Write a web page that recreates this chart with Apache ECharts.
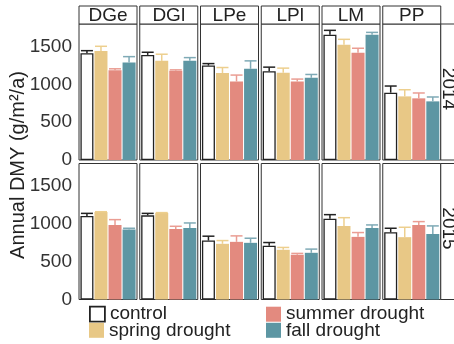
<!DOCTYPE html>
<html>
<head>
<meta charset="utf-8">
<script src="https://cdn.jsdelivr.net/npm/echarts@6/dist/echarts.min.js"></script>
<style>html,body{margin:0;padding:0;background:#fff;}#c{width:454px;height:344px;}</style>
</head>
<body>
<div id="c"></div>
<script>
const panels = ['DGe', 'DGl', 'LPe', 'LPl', 'LM', 'PP'];
const years = ['2014', '2015'];
const treatments = ['control', 'spring drought', 'summer drought', 'fall drought'];
const yTicks = [0, 500, 1000, 1500];

// 2014 means and standard errors
const control2014 = [1413, 1391, 1250, 1176, 1658, 891];
const control2014Se = [34, 35, 26, 53, 58, 88];
const spring2014 = [1443, 1312, 1152, 1154, 1526, 842];
const spring2014Se = [62, 88, 72, 62, 71, 88];
const summer2014 = [1189, 1180, 1039, 1039, 1421, 816];
const summer2014Se = [18, 13, 85, 32, 58, 71];
const fall2014 = [1289, 1312, 1207, 1088, 1658, 776];
const fall2014Se = [79, 43, 105, 44, 31, 58];

// 2015 means and standard errors
const control2015 = [1105, 1114, 780, 711, 1070, 890];
const control2015Se = [35, 26, 58, 43, 53, 53];
const spring2015 = [1158, 1145, 737, 658, 974, 825];
const spring2015Se = [4, 5, 43, 31, 109, 131];
const summer2015 = [987, 934, 763, 592, 829, 987];
const summer2015Se = [70, 35, 79, 18, 57, 44];
const fall2015 = [925, 947, 750, 618, 947, 868];
const fall2015Se = [18, 66, 61, 49, 40, 106];

const means = [
  [control2014, spring2014, summer2014, fall2014],
  [control2015, spring2015, summer2015, fall2015]
];
const ses = [
  [control2014Se, spring2014Se, summer2014Se, fall2014Se],
  [control2015Se, spring2015Se, summer2015Se, fall2015Se]
];

const FONT = '"Liberation Sans", Arial, Helvetica, sans-serif';
const fills = ['#ffffff', '#E8C886', '#E38A7F', '#5D96A3'];
const errColors = ['#222222', '#EDCF8E', '#EA9D93', '#7FAAB6'];
const BAR_W = 13, BAR_GAP = 1.04;
const PANEL_L = 79, PANEL_STEP = 60.75, PANEL_W = 58, PANEL_H = 136;
const ROW_TOP = [24, 163.5];

const grids = [], xAxes = [], yAxes = [], series = [], graphics = [];
years.forEach((yr, r) => {
  panels.forEach((p, c) => {
    const idx = r * panels.length + c;
    grids.push({
      left: PANEL_L + c * PANEL_STEP, top: ROW_TOP[r], width: PANEL_W, height: PANEL_H,
      show: true, borderColor: '#333', borderWidth: 1, backgroundColor: '#fff'
    });
    xAxes.push({ gridIndex: idx, type: 'category', data: [p], show: false });
    yAxes.push({
      gridIndex: idx, type: 'value', min: 0, max: 1800, interval: 500,
      splitLine: { show: false }, axisLine: { show: false }, axisTick: { show: false },
      axisLabel: {
        show: c === 0, fontSize: 19, color: '#333', margin: 7, fontFamily: FONT,
        showMaxLabel: false,
        formatter: v => (yTicks.indexOf(v) >= 0 ? String(v) : '')
      }
    });
    treatments.forEach((t, g) => {
      series.push({
        name: t, type: 'bar', xAxisIndex: idx, yAxisIndex: idx,
        barWidth: BAR_W, barGap: '8%',
        data: [means[r][g][c]],
        itemStyle: g === 0
          ? { color: fills[g], borderColor: '#222', borderWidth: 1.3 }
          : { color: fills[g] },
        emphasis: { disabled: true },
        silent: true
      });
    });
    series.push({
      name: 'err', type: 'custom', xAxisIndex: idx, yAxisIndex: idx, z: 5,
      encode: { x: 0, y: [1, 2] },
      data: treatments.map((t, g) => [0, means[r][g][c], means[r][g][c] + ses[r][g][c], g]),
      renderItem: (params, api) => {
        const g = api.value(3);
        const lo = api.coord([0, api.value(1)]);
        const hi = api.coord([0, api.value(2)]);
        const x = lo[0] + (g - 1.5) * (BAR_W + BAR_GAP);
        const half = 6;
        const st = { stroke: errColors[g], lineWidth: 1.5 };
        return {
          type: 'group',
          children: [
            { type: 'line', shape: { x1: x, y1: lo[1], x2: x, y2: hi[1] }, style: st },
            { type: 'line', shape: { x1: x - half, y1: hi[1], x2: x + half, y2: hi[1] }, style: st }
          ]
        };
      },
      silent: true
    });
  });
});

// facet strips (top)
panels.forEach((p, c) => {
  const x = PANEL_L + c * PANEL_STEP;
  graphics.push({ type: 'rect', shape: { x: x, y: 6, width: PANEL_W, height: 18 },
    style: { fill: '#fff', stroke: '#333', lineWidth: 1 } });
  graphics.push({ type: 'text', x: x + PANEL_W / 2, y: 16,
    style: { text: p, fontSize: 19, fontFamily: FONT, fill: '#222', align: 'center', verticalAlign: 'middle' } });
});
// facet strips (right)
years.forEach((yr, r) => {
  const x = PANEL_L + 5 * PANEL_STEP + PANEL_W;
  graphics.push({ type: 'rect', shape: { x: x, y: ROW_TOP[r], width: 30, height: PANEL_H },
    style: { fill: '#fff', stroke: '#333', lineWidth: 1 } });
  graphics.push({ type: 'text', x: x + 7.5, y: ROW_TOP[r] + PANEL_H / 2 - 3, rotation: -Math.PI / 2,
    style: { text: yr, fontSize: 19, fontFamily: FONT, fill: '#222', align: 'center', verticalAlign: 'middle' } });
});
// y axis title
graphics.push({ type: 'text', x: 18, y: 165, rotation: Math.PI / 2,
  style: { text: 'Annual DMY (g/m²/a)', fontSize: 20, fontFamily: FONT, fill: '#222', align: 'center', verticalAlign: 'middle' } });

function legendFor(name, left, top, extra) {
  return Object.assign({
    data: [name], left: left, top: top, orient: 'vertical', padding: 0, itemGap: 0,
    itemWidth: 15, itemHeight: 15, icon: 'rect', selectedMode: false,
    textStyle: { fontSize: 19, color: '#222', fontFamily: FONT, lineHeight: 19 }
  }, extra || {});
}

const chart = echarts.init(document.getElementById('c'), null, { renderer: 'canvas' });
chart.setOption({
  animation: false,
  backgroundColor: '#fff',
  grid: grids,
  xAxis: xAxes,
  yAxis: yAxes,
  series: series,
  graphic: graphics,
  legend: [
    legendFor(treatments[0], 89, 304.7, { itemStyle: { borderColor: '#222', borderWidth: 1.8 } }),
    legendFor(treatments[1], 89, 320.8),
    legendFor(treatments[2], 266, 304.7),
    legendFor(treatments[3], 266, 320.8)
  ]
});
</script>
</body>
</html>
